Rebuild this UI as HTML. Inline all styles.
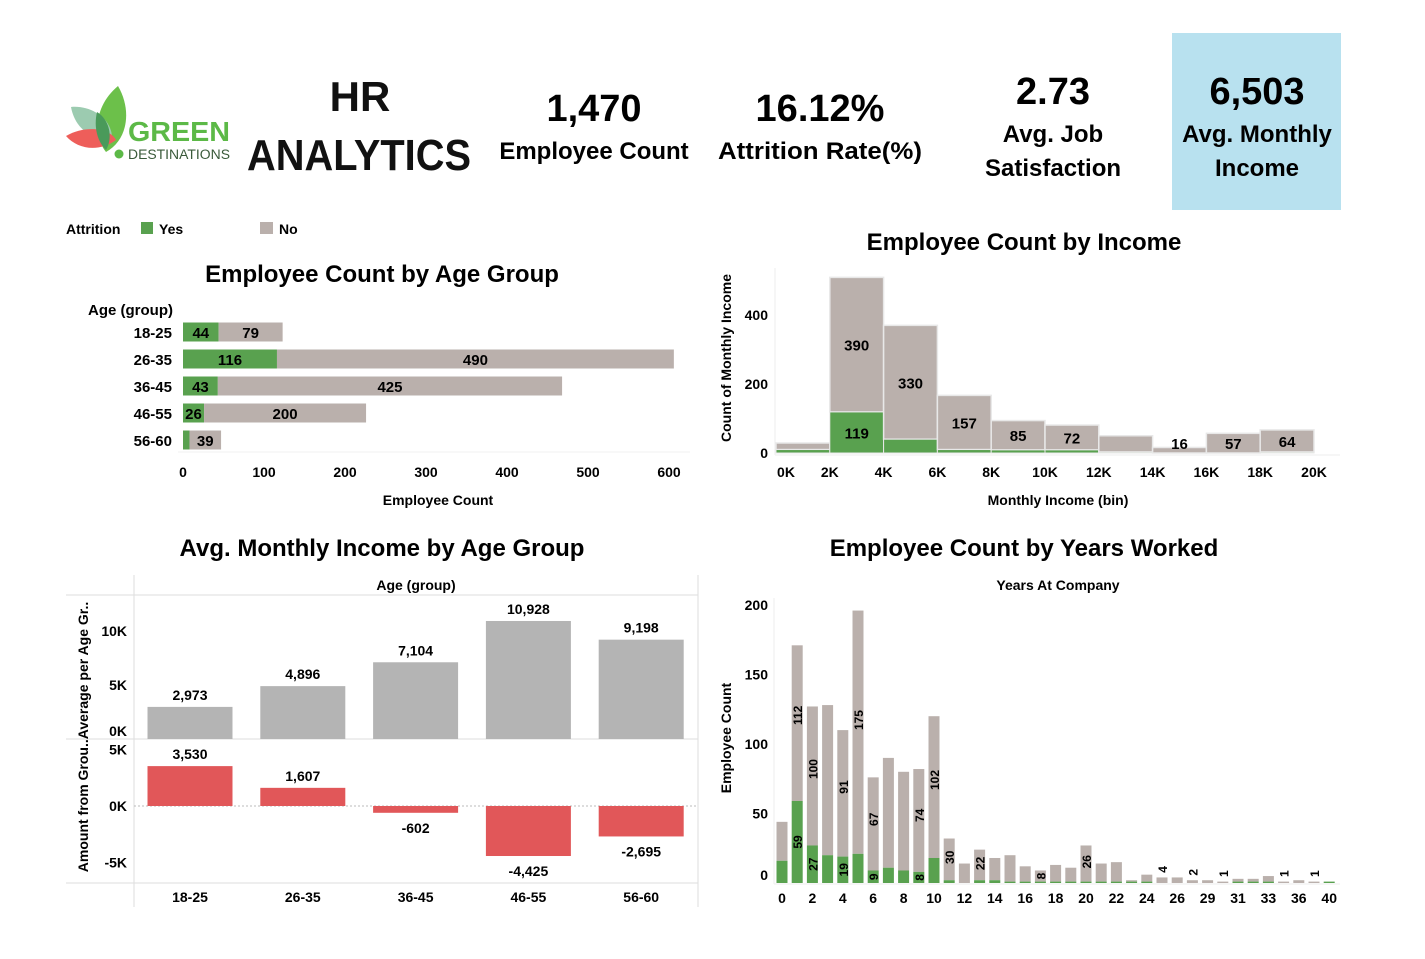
<!DOCTYPE html>
<html><head><meta charset="utf-8"><style>
body{margin:0;background:#fff;}
svg{display:block;font-family:"Liberation Sans",sans-serif;font-weight:bold;}
</style></head><body>
<svg id="s" width="1425" height="959" viewBox="0 0 1425 959">
<g>
 <path d="M118,86 C95,105 92,135 106,152 C128,140 132,110 118,86Z" fill="#6cc04a"/>
 <path d="M71,107 C90,105 112,118 112,138 C95,142 75,130 71,107Z" fill="#9ccbb0"/>
 <path d="M66,136 C85,125 110,128 116,140 C100,152 78,150 66,136Z" fill="#ee5e5a"/>
 <path d="M97,112 C110,120 113,138 106,150 C96,140 94,125 97,112Z" fill="#4a9a5a"/>
 <text x="128" y="141" font-size="28" fill="#5cb947" textLength="102" lengthAdjust="spacingAndGlyphs">GREEN</text>
 <circle cx="119" cy="154" r="4.5" fill="#5cb947"/>
 <text x="128" y="159" font-size="13.5" fill="#3a5a3a" font-weight="normal" textLength="102" lengthAdjust="spacingAndGlyphs">DESTINATIONS</text>
</g>
<text x="360" y="111" font-size="42" text-anchor="middle" fill="#111">HR</text>
<text x="247" y="170" font-size="44" fill="#111" textLength="224" lengthAdjust="spacingAndGlyphs">ANALYTICS</text>
<g><text x="594" y="121" font-size="38" text-anchor="middle">1,470</text><text x="594" y="159" font-size="24" text-anchor="middle">Employee Count</text></g>
<g><text x="820" y="121" font-size="38" text-anchor="middle">16.12%</text><text x="820" y="159" font-size="24" text-anchor="middle" textLength="204" lengthAdjust="spacingAndGlyphs">Attrition Rate(%)</text></g>
<g><text x="1053" y="104" font-size="38" text-anchor="middle">2.73</text><text x="1053" y="142" font-size="24" text-anchor="middle">Avg. Job</text><text x="1053" y="176" font-size="24" text-anchor="middle">Satisfaction</text></g>
<g><rect x="1172" y="33" width="169" height="177" fill="#b8e1ef"/><text x="1257" y="104" font-size="38" text-anchor="middle">6,503</text><text x="1257" y="142" font-size="24" text-anchor="middle">Avg. Monthly</text><text x="1257" y="176" font-size="24" text-anchor="middle">Income</text></g>
<g font-size="14">
 <text x="66" y="234">Attrition</text>
 <rect x="141" y="222" width="12" height="12" fill="#59a14f"/><text x="159" y="234">Yes</text>
 <rect x="260" y="222" width="13" height="12" fill="#bab0ac"/><text x="279" y="234">No</text>
</g>
<text x="382" y="282" font-size="24" text-anchor="middle">Employee Count by Age Group</text>
<text x="1024" y="250" font-size="24" text-anchor="middle">Employee Count by Income</text>
<text x="382" y="556" font-size="24" text-anchor="middle">Avg.  Monthly Income by Age Group</text>
<text x="1024" y="556" font-size="24" text-anchor="middle">Employee Count by Years Worked</text>
<g id="c1"></g><g id="c2"></g><g id="c3"></g><g id="c4"></g>
</svg>
<script>
const ageGroups=["18-25","26-35","36-45","46-55","56-60"];
const ageYes=[44,116,43,26,8];
const ageNo=[79,490,425,200,39];
const ageTicks=[0,100,200,300,400,500,600];

const incBins=["0K","2K","4K","6K","8K","10K","12K","14K","16K","18K","20K"];
const incYes=[10,119,40,10,9,9,3,0,0,3];
const incNo=[19,390,330,157,85,72,47,16,57,64];
const incShowLabel=[0,1,1,1,1,1,0,1,1,1];
const incTicks=[0,200,400];

const avgIncome=[2973,4896,7104,10928,9198];
const diffIncome=[3530,1607,-602,-4425,-2695];
const avgTicks=[0,5000,10000];
const diffTicks=[-5000,0,5000];

const years=[0,1,2,3,4,5,6,7,8,9,10,11,12,13,14,15,16,17,18,19,20,21,22,23,24,25,26,27,29,30,31,32,33,34,36,37,40];
const yrYes=[16,59,27,20,19,21,9,11,9,8,18,2,0,2,2,1,1,1,1,1,1,1,1,1,1,0,0,0,0,0,1,1,1,0,0,0,1];
const yrNo=[28,112,100,108,91,175,67,79,71,74,102,30,14,22,16,19,11,8,12,10,26,13,14,1,5,4,4,2,2,1,2,2,4,1,2,1,0];
const yrLabelled=[1,2,4,5,6,9,10,11,13,17,20,25,27,29,33,35];
const yrYesLabelled=[1,2,4,6,9];
const yrTicks=[0,50,100,150,200];

const NS="http://www.w3.org/2000/svg";
function mk(p,tag,a,txt){const e=document.createElementNS(NS,tag);for(const k in a)e.setAttribute(k,a[k]);if(txt!==undefined)e.textContent=txt;p.appendChild(e);return e;}
const G="#59a14f",N="#bab0ac";

// Chart 1
(function(){
 const g=document.getElementById('c1');
 const x=v=>183+v*0.81; const y=i=>332+i*27;
 mk(g,'text',{x:88,y:315,'font-size':15},'Age (group)');
 ageTicks.forEach(t=>{
  const tx=mk(g,'text',{x:x(t),y:477,'font-size':14,'text-anchor':'middle'},t);
  
  
 });
 mk(g,'line',{x1:178,x2:690,y1:452,y2:452,stroke:'#f2f2f2'});
 ageGroups.forEach((a,i)=>{
  const cy=y(i);
  const lb=mk(g,'text',{x:172,y:cy+6,'font-size':15,'text-anchor':'end'},a);
  
  
  const r1=mk(g,'rect',{x:x(0),y:cy-9.5,width:x(ageYes[i])-x(0),height:19,fill:G});
  
  
  const r2=mk(g,'rect',{x:x(ageYes[i]),y:cy-9.5,width:x(ageNo[i])-x(0),height:19,fill:N});
  
  
  if(ageYes[i]>20){mk(g,'text',{x:(x(0)+x(ageYes[i]))/2,y:cy+6,'font-size':15,'text-anchor':'middle'},ageYes[i]);}
  mk(g,'text',{x:(x(ageYes[i])+x(ageYes[i]+ageNo[i]))/2,y:cy+6,'font-size':15,'text-anchor':'middle'},ageNo[i]);
 });
 mk(g,'text',{x:438,y:505,'font-size':14,'text-anchor':'middle'},'Employee Count');
})();

// Chart 2
(function(){
 const g=document.getElementById('c2');
 const bw=53.8; const x=i=>776+i*bw; const y=v=>453-v*0.345;
 mk(g,'line',{x1:775,x2:775,y1:268,y2:455,stroke:'#eee'});
 mk(g,'line',{x1:775,x2:1340,y1:455,y2:455,stroke:'#eee'});
 incTicks.forEach(t=>{const tx=mk(g,'text',{x:768,y:y(t)+5,'font-size':14,'text-anchor':'end'},t);
  
  });
 incBins.forEach((b,i)=>{const tx=mk(g,'text',{x:x(i)+(i===0?10:0),y:477,'font-size':14,'text-anchor':'middle'},b);
  
  });
 incYes.forEach((v,i)=>{
  const tot=v+incNo[i];
  const r2=mk(g,'rect',{x:x(i),y:y(tot),width:bw,height:y(v)-y(tot),fill:N,stroke:'#e8e8e8','stroke-width':1.5});
  
  
  const r1=mk(g,'rect',{x:x(i),y:y(v),width:bw,height:y(0)-y(v),fill:G,stroke:'#e8e8e8','stroke-width':1});
  
  
  if(incShowLabel[i]){
   const ly=Math.min((y(tot)+y(v))/2+6, y(v)-4);
   mk(g,'text',{x:x(i)+bw/2,y:ly,'font-size':15,'text-anchor':'middle'},incNo[i]);
  }
  if(v>100) mk(g,'text',{x:x(i)+bw/2,y:(y(v)+y(0))/2+6,'font-size':15,'text-anchor':'middle'},v);
 });
 mk(g,'text',{x:731,y:358,'font-size':14,'text-anchor':'middle',transform:'rotate(-90 731 358)'},'Count of Monthly Income');
 mk(g,'text',{x:1058,y:505,'font-size':14,'text-anchor':'middle'},'Monthly Income (bin)');
})();

// Chart 3
(function(){
 const g=document.getElementById('c3');
 const cx=i=>190+i*112.8; const bw=85;
 const yA=v=>739-v*0.0108; const yD=v=>806-v*0.0113;
 [[134,575,134,907],[66,595,698,595],[66,739,698,739],[66,883,698,883],[698,575,698,907]].forEach(l=>mk(g,'line',{x1:l[0],y1:l[1],x2:l[2],y2:l[3],stroke:'#ddd'}));
 mk(g,'line',{x1:134,x2:698,y1:yD(0),y2:yD(0),stroke:'#bbb','stroke-dasharray':'2,2'});
 mk(g,'text',{x:416,y:590,'font-size':14,'text-anchor':'middle'},'Age (group)');
 avgTicks.forEach(t=>{const tx=mk(g,'text',{x:127,y:yA(t)+(t===0?-3:5),'font-size':14,'text-anchor':'end'},(t/1000)+'K');
  
  });
 diffTicks.forEach(t=>{const tx=mk(g,'text',{x:127,y:yD(t)+5,'font-size':14,'text-anchor':'end'},(t/1000)+'K');
  
  });
 ageGroups.forEach((a,i)=>{
  const r=mk(g,'rect',{x:cx(i)-bw/2,y:yA(avgIncome[i]),width:bw,height:yA(0)-yA(avgIncome[i]),fill:'#b4b4b4'});
  
  
  mk(g,'text',{x:cx(i),y:yA(avgIncome[i])-7,'font-size':14,'text-anchor':'middle'},avgIncome[i].toLocaleString('en-US'));
  const d=diffIncome[i];
  const r2=mk(g,'rect',{x:cx(i)-bw/2,y:Math.min(yD(d),yD(0)),width:bw,height:Math.abs(yD(d)-yD(0)),fill:'#e15759'});
  
  
  mk(g,'text',{x:cx(i),y:d>0?yD(d)-7:yD(d)+20,'font-size':14,'text-anchor':'middle'},d.toLocaleString('en-US'));
  const tx=mk(g,'text',{x:cx(i),y:902,'font-size':14,'text-anchor':'middle'},a);
  
  
 });
 mk(g,'text',{x:88,y:737,'font-size':14,'text-anchor':'middle',transform:'rotate(-90 88 737)'},'Amount from Grou..Average per Age Gr..');
})();

// Chart 4
(function(){
 const g=document.getElementById('c4');
 const step=15.2,bw=11; const cx=i=>782+i*step; const y=v=>883-v*1.39;
 mk(g,'line',{x1:774,x2:774,y1:598,y2:884,stroke:'#eee'});
 mk(g,'line',{x1:774,x2:1340,y1:884,y2:884,stroke:'#eee'});
 mk(g,'text',{x:1058,y:590,'font-size':14,'text-anchor':'middle'},'Years At Company');
 yrTicks.forEach(t=>{const tx=mk(g,'text',{x:768,y:y(t)+(t===0?-3:5),'font-size':14,'text-anchor':'end'},t);
  
  });
 years.forEach((yr,i)=>{
  const tot=yrYes[i]+yrNo[i];
  const r2=mk(g,'rect',{x:cx(i)-bw/2,y:y(tot),width:bw,height:y(yrYes[i])-y(tot),fill:N});
  
  
  const r1=mk(g,'rect',{x:cx(i)-bw/2,y:y(yrYes[i]),width:bw,height:y(0)-y(yrYes[i]),fill:G});
  
  
  if(i%2===0){const tx=mk(g,'text',{x:cx(i),y:903,'font-size':14,'text-anchor':'middle'},yr);
   
   }
  if(yrLabelled.indexOf(i)>=0){
   let ly;
   if(yrNo[i]>=20) ly=y(yrYes[i]+yrNo[i]*0.55);
   else if(yrNo[i]>=5) ly=(y(tot)+y(yrYes[i]))/2;
   else ly=y(tot)-8;
   mk(g,'text',{x:cx(i)+5,y:ly,'font-size':12,'text-anchor':'middle',transform:`rotate(-90 ${cx(i)+5} ${ly})`},yrNo[i]);
  }
  if(yrYesLabelled.indexOf(i)>=0){const gy=(y(yrYes[i])+y(0))/2;
   mk(g,'text',{x:cx(i)+5,y:gy,'font-size':12,'text-anchor':'middle',transform:`rotate(-90 ${cx(i)+5} ${gy})`},yrYes[i]);}
 });
 mk(g,'text',{x:731,y:738,'font-size':14,'text-anchor':'middle',transform:'rotate(-90 731 738)'},'Employee Count');
})();
</script>
</body></html>
